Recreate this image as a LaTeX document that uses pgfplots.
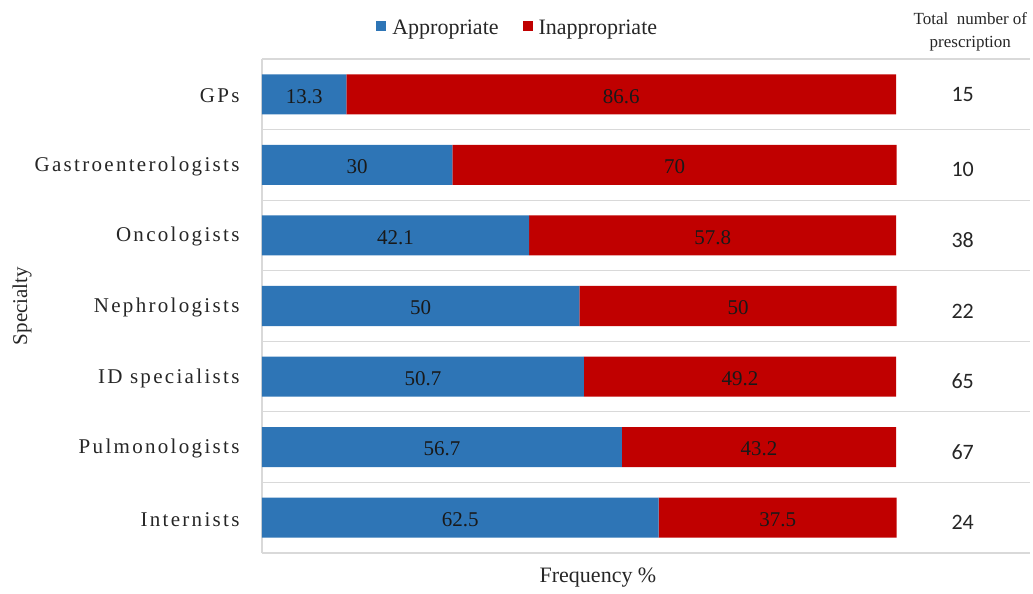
\documentclass[border=0pt]{standalone}
\usepackage{pgfplots}
\usepackage{pgfplotstable}
\pgfplotsset{compat=1.18}
\usepackage{fontspec}
\setmainfont{Liberation Serif}
\newfontfamily\spacedserif[LetterSpace=11]{Liberation Serif}
\newfontfamily\calib{Carlito}
\definecolor{appblue}{HTML}{2E75B6}
\definecolor{inapred}{HTML}{C00000}
\definecolor{gridgray}{HTML}{D9D9D9}

% pos 0 = bottom (Internists), 6 = top (GPs)
\pgfplotstableread{
pos app  applab inapp inapplab
0   62.5 62.5   37.5  37.5
1   56.7 56.7   43.2  43.2
2   50.7 50.7   49.2  49.2
3   50   50     50    50
4   42.1 42.1   57.8  57.8
5   30   30     70    70
6   13.3 13.3   86.6  86.6
}\spec

\begin{document}
\begin{tikzpicture}
\path[use as bounding box] (-262pt,-41pt) rectangle (771pt,553pt);
\begin{axis}[
    scale only axis,
    width=768pt, height=494pt,
    xbar stacked, bar width=40pt,
    xmin=0, xmax=121, ymin=-0.5, ymax=6.5,
    clip=false,
    axis line style={draw=none},
    xtick=\empty,
    ytick={0,...,6},
    yticklabels={Internists,Pulmonologists,ID specialists,Nephrologists,Oncologists,Gastroenterologists,GPs},
    yticklabel style={font=\fontsize{21}{24}\spacedserif, text=black!85, xshift=-19pt, yshift=-1.5pt},
    major tick length=0pt,
    extra y ticks={-0.5,0.5,1.5,2.5,3.5,4.5,5.5,6.5},
    extra y tick labels={},
    extra y tick style={grid=major, major grid style={gridgray, line width=1.2pt}},
    xlabel={Frequency \%},
    xlabel style={at={(rel axis cs:0.4375,0)}, anchor=north, yshift=-11pt,
        font=\fontsize{22}{24}\selectfont, text=black!85},
    ylabel={Specialty},
    ylabel style={at={(axis description cs:-0.3125,0.5)}, anchor=center,
        font=\fontsize{21}{24}\selectfont, text=black!85},
    legend style={at={(rel axis cs:0.333,1.063)}, anchor=center, draw=none, fill=none,
        legend columns=2, font=\fontsize{22}{24}\selectfont, text=black!85,
        /tikz/every odd column/.append style={column sep=4pt},
        /tikz/every even column/.append style={column sep=22pt},
        legend cell align=left},
    legend image code/.code={\fill[#1] (0pt,-3pt) rectangle (10pt,7pt);},
    every node near coord/.append style={anchor=center, text=black!90, yshift=-2pt,
        font=\fontsize{21}{24}\selectfont},
]
\addplot[fill=appblue, draw=none, nodes near coords, point meta=explicit symbolic]
    table[x=app, y=pos, meta=applab] {\spec};
\addlegendentry{Appropriate}
\addplot[fill=inapred, draw=none, nodes near coords, point meta=explicit symbolic]
    table[x=inapp, y=pos, meta=inapplab] {\spec};
\addlegendentry{Inappropriate}

\draw[gridgray, line width=1.2pt] (rel axis cs:0,0) -- (rel axis cs:0,1);

\node[align=center, font=\fontsize{17}{23}\selectfont, text=black!85] at (axis cs:111.6,6.88) {Total\ \ number of\\prescription};
\node[font=\fontsize{22}{24}\calib, text=black!85] at (axis cs:110.4,6) {15};
\node[font=\fontsize{22}{24}\calib, text=black!85, yshift=-5pt] at (axis cs:110.4,5) {10};
\node[font=\fontsize{22}{24}\calib, text=black!85, yshift=-5pt] at (axis cs:110.4,4) {38};
\node[font=\fontsize{22}{24}\calib, text=black!85, yshift=-5pt] at (axis cs:110.4,3) {22};
\node[font=\fontsize{22}{24}\calib, text=black!85, yshift=-5pt] at (axis cs:110.4,2) {65};
\node[font=\fontsize{22}{24}\calib, text=black!85, yshift=-5pt] at (axis cs:110.4,1) {67};
\node[font=\fontsize{22}{24}\calib, text=black!85, yshift=-5pt] at (axis cs:110.4,0) {24};
\end{axis}
\end{tikzpicture}
\end{document}
